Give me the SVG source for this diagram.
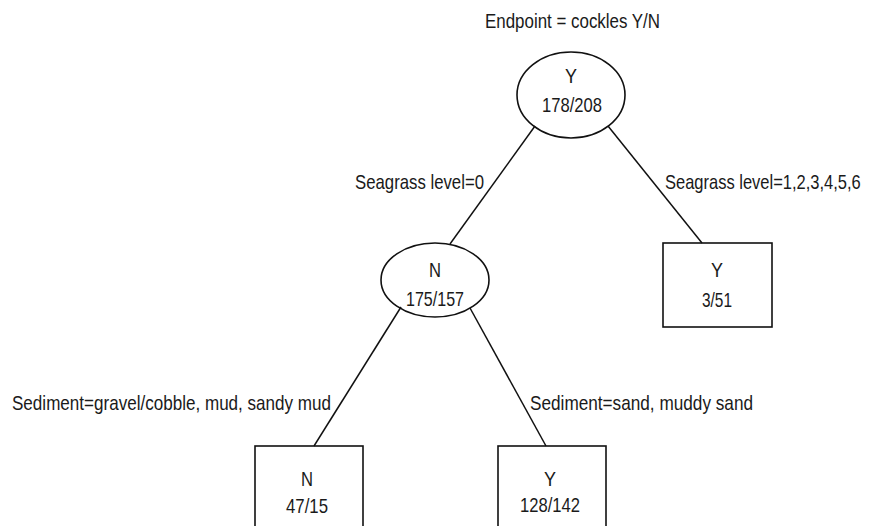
<svg xmlns="http://www.w3.org/2000/svg" width="869" height="526" viewBox="0 0 869 526">
<style>
text{font-family:"Liberation Sans",Arial,sans-serif;font-size:21px;fill:#1a1a1a}
.c{text-anchor:middle}
.n{fill:none;stroke:#111;stroke-width:1.6}
.e{stroke:#111;stroke-width:1.5}
</style>
<rect width="869" height="526" fill="#fff"/>
<text x="485" y="28" textLength="175" lengthAdjust="spacingAndGlyphs">Endpoint = cockles Y/N</text>
<g id="connectors">
<line class="e" x1="535" y1="126" x2="450" y2="244"/>
<line class="e" x1="608" y1="126" x2="702" y2="243"/>
<line class="e" x1="401" y1="307" x2="314" y2="446"/>
<line class="e" x1="470" y1="308" x2="546" y2="446"/>
<text x="355" y="189" textLength="129" lengthAdjust="spacingAndGlyphs">Seagrass level=0</text>
<text transform="translate(665,189) scale(0.786,1)">Seagrass level=1,2,3,4,5,6</text>
<text x="12" y="410" textLength="319" lengthAdjust="spacingAndGlyphs">Sediment=gravel/cobble, mud, sandy mud</text>
<text x="530" y="410" textLength="223" lengthAdjust="spacingAndGlyphs">Sediment=sand, muddy sand</text>
</g>
<g id="root">
<ellipse class="n" cx="571" cy="95" rx="54" ry="43"/>
<text class="c" x="571" y="83" textLength="12" lengthAdjust="spacingAndGlyphs">Y</text>
<text class="c" x="572" y="112" textLength="60" lengthAdjust="spacingAndGlyphs">178/208</text>
</g>
<g id="n1">
<ellipse class="n" cx="435" cy="280" rx="54" ry="37"/>
<text class="c" x="435" y="277" textLength="12" lengthAdjust="spacingAndGlyphs">N</text>
<text class="c" x="435" y="306" textLength="58" lengthAdjust="spacingAndGlyphs">175/157</text>
</g>
<g id="leaf1">
<rect class="n" x="663" y="243" width="109" height="84"/>
<text class="c" x="717" y="277" textLength="12" lengthAdjust="spacingAndGlyphs">Y</text>
<text class="c" x="717" y="307" textLength="30" lengthAdjust="spacingAndGlyphs">3/51</text>
</g>
<g id="leaf2">
<rect class="n" x="255" y="446" width="108" height="100"/>
<text class="c" x="307" y="486" textLength="12" lengthAdjust="spacingAndGlyphs">N</text>
<text class="c" x="307" y="513" textLength="42" lengthAdjust="spacingAndGlyphs">47/15</text>
</g>
<g id="leaf3">
<rect class="n" x="498" y="446" width="108" height="100"/>
<text class="c" x="550" y="486" textLength="12" lengthAdjust="spacingAndGlyphs">Y</text>
<text class="c" x="550" y="512" textLength="60" lengthAdjust="spacingAndGlyphs">128/142</text>
</g>
</svg>
